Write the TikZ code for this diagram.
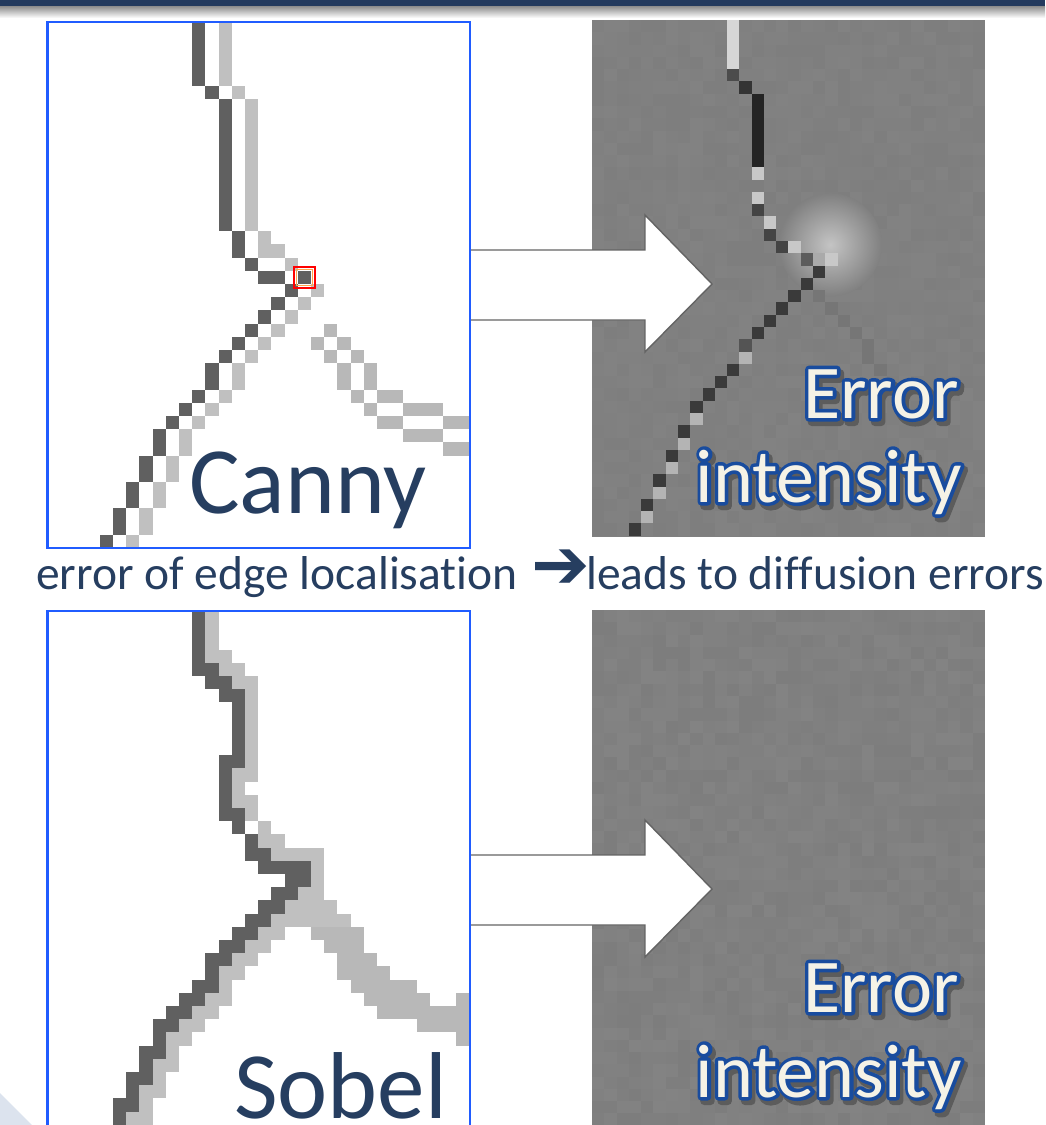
\documentclass[tikz,border=0pt]{standalone}
\usepackage{fontspec}
\setmainfont{Carlito}[Ligatures=NoCommon]
\newfontfamily\dejavu{DejaVu Sans}
\usetikzlibrary{calc}
\definecolor{navy}{RGB}{38,62,96}
\definecolor{barnavy}{RGB}{35,58,94}
\definecolor{pblue}{RGB}{32,92,255}
\definecolor{dk}{RGB}{96,96,96}
\definecolor{lt}{RGB}{192,192,192}
\definecolor{ltb}{RGB}{184,184,184}
\definecolor{bgg}{RGB}{128,128,128}
\definecolor{cream}{RGB}{245,242,230}
\definecolor{arrowline}{RGB}{100,100,100}
\definecolor{swoosh}{RGB}{220,227,238}
\definecolor{faint}{RGB}{118,118,118}
\definecolor{segtop}{RGB}{214,214,214}
\definecolor{g76}{RGB}{76,76,76}
\definecolor{g52}{RGB}{52,52,52}
\definecolor{g36}{RGB}{36,36,36}
\definecolor{g200}{RGB}{200,200,200}
\definecolor{g170}{RGB}{170,170,170}
\definecolor{g68}{RGB}{68,68,68}
\definecolor{g92}{RGB}{92,92,92}
\definecolor{g58}{RGB}{58,58,58}
\definecolor{g84}{RGB}{84,84,84}
\definecolor{g180}{RGB}{180,180,180}
\definecolor{glowc}{RGB}{196,196,196}
\tikzset{
  bigtxt/.style={inner sep=0pt, text=navy, font=\fontsize{95}{95}\selectfont},
  captxt/.style={inner sep=0pt, text=navy, font=\fontsize{47.5}{47.5}\selectfont},
  errtxt/.style={inner sep=0pt, text=cream, font=\fontsize{76}{76}\selectfont},
  blockarr/.style={draw=arrowline, line width=1.4pt, fill=white, line join=miter},
  panelborder/.style={draw=pblue, line width=2.6pt}
}
% text drawn with a stroke (PDF text render mode 2)
\newcommand\strokedtext[3]{\special{pdf:literal direct q 2 Tr #1 w 1 j #2 RG #2 rg}#3\special{pdf:literal direct Q}}
% cream text with blue outline and soft shadow, in one node
\newcommand\outlinedword[1]{%
  \rlap{\kern3pt\raisebox{-4pt}{\strokedtext{8}{0.36 0.36 0.36}{#1}}}%
  \rlap{\strokedtext{7}{0.10 0.30 0.62}{#1}}#1}
\newcommand\blockarrow[1]{%
  \draw[blockarr] (470,#1-34) -- (645,#1-34) -- (645,#1-69) -- (712,#1) -- (645,#1+68) -- (645,#1+36) -- (470,#1+36);
}
\begin{document}
\begin{tikzpicture}[x=1pt,y=-1pt]
\useasboundingbox (0,0) rectangle (1045,1125);
\fill[white] (0,0) rectangle (1045,1125);
% top bar
\shade[top color=black!45, bottom color=white] (0,6) rectangle (1045,18);
\fill[barnavy] (0,0) rectangle (1045,6);

% ---------- right panels ----------
\pgfmathsetseed{4242}
\fill[bgg] (592,20) rectangle (985,537);
\fill[bgg] (592,610) rectangle (985,1125);
\begin{scope}
\clip (592,20) rectangle (985,537);
\begin{scope}[shift={(592pt,-20pt)}, x=12.28pt, y=-12.28pt]
\foreach \i in {0,...,31}{
  \foreach \j in {0,...,41}{
    \pgfmathrandominteger{\v}{126}{130}
    \ifnum\v=128\relax\else
      \definecolor{tx}{RGB}{\v,\v,\v}\fill[tx] (\i,\j) rectangle ++(1,1);
    \fi
  }
}
\shade[inner color=glowc, outer color=bgg] (19.4,18.3) circle (4.2);
\foreach \a/\b in {18/22,19/23,20/24,21/25,22/26,22/27,23/28}
  \fill[faint] (\a,\b) rectangle ++(1,1);
\fill[segtop] (11,0) rectangle (12,4);
\fill[g76] (11,4) rectangle (12,5);
\fill[g52] (12,5) rectangle (13,6);
\fill[g36] (13,6) rectangle (14,12);
\foreach \a/\b in {13/12,13/14,14/16,16/18,19/19}
  \fill[g200] (\a,\b) rectangle ++(1,1);
\fill[g170] (18,19) rectangle ++(1,1);
\foreach \a/\b in {13/15,14/17,15/18}
  \fill[g68] (\a,\b) rectangle ++(1,1);
\fill[g92] (17,19) rectangle ++(1,1);
\foreach \a/\b in {18/20,17/21,16/22,15/23,14/24,13/25,11/28,10/29,9/30,8/31,7/33,6/35,5/37,4/39,3/41}
  \fill[g58] (\a,\b) rectangle ++(1,1);
\fill[g84] (12,26) rectangle ++(1,1);
\foreach \a/\b in {12/27,8/32,7/34,6/36,5/38,4/40}
  \fill[g180] (\a,\b) rectangle ++(1,1);
\end{scope}
\end{scope}
\begin{scope}
\clip (592,610) rectangle (985,1125);
\begin{scope}[shift={(592pt,-610pt)}, x=12.28pt, y=-12.28pt]
\foreach \i in {0,...,31}{
  \foreach \j in {0,...,41}{
    \pgfmathrandominteger{\v}{125}{131}
    \ifnum\v=128\relax\else
      \definecolor{tx}{RGB}{\v,\v,\v}\fill[tx] (\i,\j) rectangle ++(1,1);
    \fi
  }
}
\end{scope}
\end{scope}

% ---------- block arrows ----------
\blockarrow{284}
\blockarrow{889}

% ---------- top-left panel (Canny) ----------
\fill[white] (47,22) rectangle (470,548);
\begin{scope}
\clip (47,22) rectangle (470,548);
\begin{scope}[shift={(47pt,-20pt)}, x=13.2pt, y=-13.2pt]
\foreach \a/\b/\c/\d in {13/0/14/5, 14/5/15/6, 15/6/16/16, 16/16/17/18, 17/17/18/18, 18/18/19/19, 20/20/21/21, 19/21/20/22, 18/22/19/23, 17/23/18/24, 16/24/17/25, 15/25/16/26, 14/26/15/28, 13/28/14/29, 12/29/13/30, 11/30/12/31, 10/31/11/33, 9/33/10/35, 8/35/9/37, 7/37/8/39, 6/39/7/40}
  \fill[lt] (\a,\b) rectangle (\c,\d);
\foreach \a/\b/\c/\d in {21/23/22/24, 20/24/21/25, 22/24/23/25, 21/25/22/26, 23/25/24/26, 22/26/23/28, 24/26/25/28, 23/28/24/29, 25/28/27/29, 24/29/25/30, 27/29/30/30, 25/30/27/31, 30/30/32/31, 27/31/30/32, 30/32/32/33}
  \fill[ltb] (\a,\b) rectangle (\c,\d);
\foreach \a/\b/\c/\d in {11/0/12/5, 12/5/13/6, 13/6/14/16, 14/16/15/18, 15/18/16/19, 16/19/18/20, 19/19/20/20, 18/20/19/21, 17/21/18/22, 16/22/17/23, 15/23/16/24, 14/24/15/25, 13/25/14/26, 12/26/13/28, 11/28/12/29, 10/29/11/30, 9/30/10/31, 8/31/9/33, 7/33/8/35, 6/35/7/37, 5/37/6/39, 4/39/5/40}
  \fill[dk] (\a,\b) rectangle (\c,\d);
\draw[red, line width=1.8pt] (18.72,18.72) rectangle (20.28,20.28);
\draw[orange!70, line width=0.8pt] (18.88,18.88) rectangle (20.12,20.12);
\end{scope}
\end{scope}
\draw[panelborder] (47.5,22) rectangle (470,548);
\node[bigtxt, anchor=base west] (canny) at (189,513) {Canny};

% ---------- bottom-left panel (Sobel) ----------
\fill[white] (47,611) rectangle (470,1130);
\begin{scope}
\clip (47,611) rectangle (470,1130);
\begin{scope}[shift={(47pt,-610pt)}, x=13.2pt, y=-13.2pt]
\foreach \a/\b/\c/\d in {12/0/13/4, 13/3/14/5, 14/4/15/5, 14/5/16/6, 15/6/16/13, 14/12/15/16, 15/14/16/16, 16/16/17/18, 17/17/18/18, 17/18/21/19, 20/19/21/22, 19/21/20/22, 18/22/22/23, 17/23/23/24, 16/24/18/25, 15/25/17/26, 14/26/16/27, 13/27/15/28, 13/28/14/29, 12/29/14/30, 11/30/13/31, 10/31/12/32, 9/32/11/33, 9/33/10/34, 8/34/10/35, 8/35/9/36, 7/36/9/37, 7/37/8/38, 6/38/8/39, 6/39/7/40}
  \fill[lt] (\a,\b) rectangle (\c,\d);
\foreach \a/\b/\c/\d in {20/24/24/25, 21/25/24/26, 22/26/25/27, 22/27/26/28, 23/28/28/29, 24/29/29/30, 31/29/32/33, 25/30/32/31, 28/31/32/32}
  \fill[ltb] (\a,\b) rectangle (\c,\d);
\foreach \a/\b/\c/\d in {11/0/12/5, 12/4/13/5, 12/5/14/6, 13/6/15/7, 14/7/15/11, 13/11/15/12, 13/12/14/16, 14/15/15/17, 15/17/16/19, 16/18/17/19, 16/19/20/20, 18/20/20/21, 17/21/19/22, 16/22/18/23, 15/23/17/24, 14/24/16/25, 13/25/15/26, 12/26/14/27, 12/27/13/28, 11/28/13/29, 10/29/12/30, 9/30/11/31, 8/31/10/32, 8/32/9/33, 7/33/9/34, 7/34/8/35, 6/35/8/36, 6/36/7/37, 5/37/7/38, 5/38/6/40}
  \fill[dk] (\a,\b) rectangle (\c,\d);
\end{scope}
\end{scope}
\draw[panelborder] (47.5,611) rectangle (470,1135);
\node[bigtxt, anchor=base west] (sobel) at (234,1118) {Sobel};

% ---------- caption ----------
\node[captxt, anchor=base west] (cap1) at (36,589) {error of edge localisation};
\node[inner sep=0pt, text=navy, font=\dejavu\bfseries\fontsize{70}{70}\selectfont] (caparr) at (561,569) {➔};
\node[captxt, anchor=base west] (cap2) at (586,589) {leads to diffusion errors};

% ---------- error labels ----------
\node[errtxt, anchor=base east] (errA) at (959,418) {\outlinedword{Error}};
\node[errtxt, anchor=base east] (intA) at (962,502) {\outlinedword{intensity}};
\node[errtxt, anchor=base east] (errB) at (959,1012) {\outlinedword{Error}};
\node[errtxt, anchor=base east] (intB) at (962,1097) {\outlinedword{intensity}};

% corner swoosh
\fill[swoosh] (0,1093) -- (32,1125) -- (0,1125) -- cycle;
\end{tikzpicture}
\end{document}
